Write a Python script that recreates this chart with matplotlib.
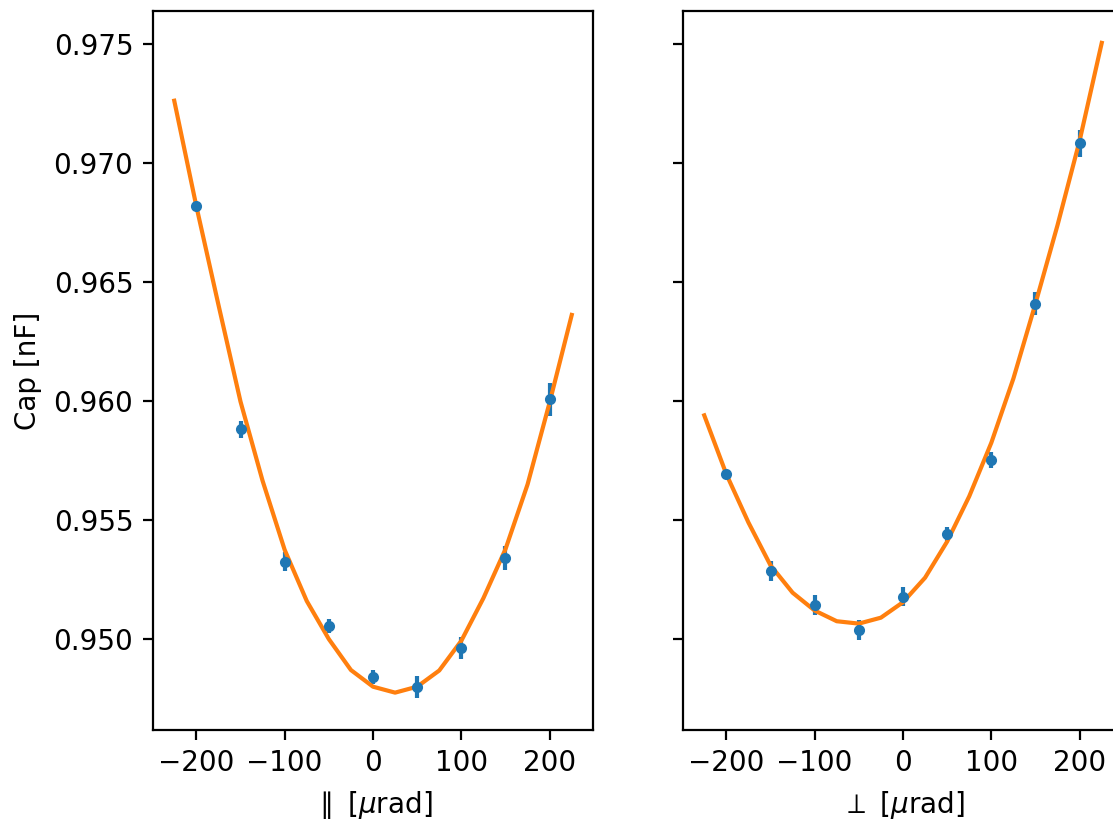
import matplotlib
matplotlib.use("Agg")
import matplotlib.pyplot as plt

# measured angles [urad]
angles = [-200, -150, -100, -50, 0, 50, 100, 150, 200]

# capacitance [nF] with errors, parallel scan
cap_par = [0.96819, 0.95882, 0.95325, 0.95055, 0.94842, 0.94800, 0.94963, 0.95342, 0.96007]
err_par = [0.00015, 0.00036, 0.00040, 0.00030, 0.00030, 0.00046, 0.00047, 0.00050, 0.00070]

# perpendicular scan
cap_perp = [0.95693, 0.95286, 0.95143, 0.95038, 0.95178, 0.95441, 0.95752, 0.96410, 0.97083]
err_perp = [0.00015, 0.00040, 0.00043, 0.00042, 0.00040, 0.00030, 0.00034, 0.00048, 0.00057]

# fitted curves
fit_angles = [-225, -200, -175, -150, -125, -100, -75, -50, -25, 0,
              25, 50, 75, 100, 125, 150, 175, 200, 225]
fit_par = [0.97262, 0.96819, 0.96405, 0.95998, 0.95665, 0.95375, 0.95160, 0.95000, 0.94870, 0.94800,
           0.94775, 0.94800, 0.94868, 0.94993, 0.95172, 0.95378, 0.95650, 0.95995, 0.96362]
fit_perp = [0.95940, 0.95693, 0.95490, 0.95310, 0.95195, 0.95120, 0.95075, 0.95065, 0.95090, 0.95155,
            0.95258, 0.95410, 0.95600, 0.95825, 0.96095, 0.96410, 0.96740, 0.97095, 0.97505]

W, H = 1113, 821
fig = plt.figure(figsize=(W / 200, H / 200), dpi=200)

ax1 = fig.add_axes([152.7 / W, (H - 730) / H, 440.6 / W, 719 / H])
ax2 = fig.add_axes([682.7 / W, (H - 730) / H, 440.6 / W, 719 / H], sharey=ax1)

ax1.errorbar(angles, cap_par, yerr=err_par, fmt='.')
ax1.plot(fit_angles, fit_par)
ax1.set_xlabel(r'$\parallel$ [$\mu$rad]')
ax1.set_ylabel('Cap [nF]')

ax2.errorbar(angles, cap_perp, yerr=err_perp, fmt='.')
ax2.plot(fit_angles, fit_perp)
ax2.set_xlabel(r'$\perp$ [$\mu$rad]')
ax2.tick_params(labelleft=False)

for ax in (ax1, ax2):
    ax.set_xlim(-249.4, 249.4)
ax1.set_ylim(0.94618, 0.97639)

fig.savefig("out.png", dpi=200)
